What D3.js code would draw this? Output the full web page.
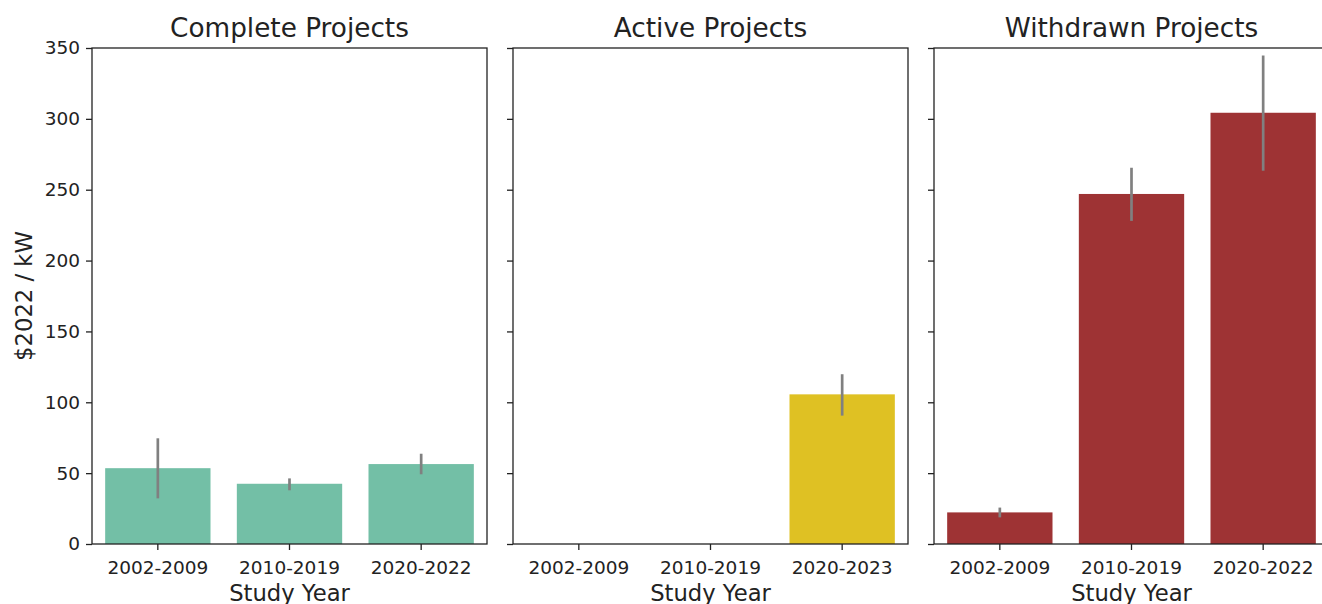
<!DOCTYPE html>
<html><head><meta charset="utf-8">
<script src="https://cdn.jsdelivr.net/npm/d3@7"></script>
<style>
body{margin:0;background:#fff;}
text{font-family:"DejaVu Sans",sans-serif;fill:#222;}
</style></head>
<body><svg id="c" width="1322" height="604"></svg>
<script>
const panelTitles = ["Complete Projects", "Active Projects", "Withdrawn Projects"];
const completeCats = ["2002-2009", "2010-2019", "2020-2022"];
const activeCats = ["2002-2009", "2010-2019", "2020-2023"];
const withdrawnCats = ["2002-2009", "2010-2019", "2020-2022"];
const completeVals = [53.5, 42.5, 56.4];
const completeLo = [32.2, 37.9, 49.2];
const completeHi = [74.6, 46.3, 63.7];
const activeVals = [null, null, 105.6];
const activeLo = [null, null, 90.6];
const activeHi = [null, null, 119.8];
const withdrawnVals = [22.3, 247, 304.3];
const withdrawnLo = [18.8, 228, 263.4];
const withdrawnHi = [25.7, 265.5, 344.7];
const yTicks = [0, 50, 100, 150, 200, 250, 300, 350];
const colors = ["#73bfa6", "#dfc123", "#9e3334"];

(function(){
const panels = [
  {title: panelTitles[0], cats: completeCats, vals: completeVals, lo: completeLo, hi: completeHi, color: colors[0], left: 92},
  {title: panelTitles[1], cats: activeCats, vals: activeVals, lo: activeLo, hi: activeHi, color: colors[1], left: 513},
  {title: panelTitles[2], cats: withdrawnCats, vals: withdrawnVals, lo: withdrawnLo, hi: withdrawnHi, color: colors[2], left: 934}
];
const W = 395, plotTop = 48, plotBottom = 544;
const svg = d3.select("#c");
const y = d3.scaleLinear().domain([0, 350]).range([plotBottom, plotTop]);

panels.forEach((p, i) => {
  const g = svg.append("g");
  const x = d3.scaleBand().domain(p.cats).range([p.left, p.left + W]).paddingInner(0.2).paddingOuter(0.1);
  const data = p.cats.map((c, j) => ({c, v: p.vals[j], lo: p.lo[j], hi: p.hi[j]})).filter(d => d.v != null);
  g.selectAll("rect.bar").data(data).enter().append("rect")
    .attr("x", d => x(d.c)).attr("width", x.bandwidth())
    .attr("y", d => y(d.v)).attr("height", d => y(0) - y(d.v))
    .attr("fill", p.color);
  g.selectAll("line.err").data(data).enter().append("line")
    .attr("x1", d => x(d.c) + x.bandwidth() / 2).attr("x2", d => x(d.c) + x.bandwidth() / 2)
    .attr("y1", d => y(d.lo)).attr("y2", d => y(d.hi))
    .attr("stroke", "#808080").attr("stroke-width", 2.7);
  g.append("rect").attr("x", p.left).attr("y", plotTop).attr("width", W).attr("height", plotBottom - plotTop)
    .attr("fill", "none").attr("stroke", "#222").attr("stroke-width", 1.3);
  const ya = d3.axisLeft(y).tickValues(yTicks).tickSize(6).tickPadding(6);
  if (i > 0) ya.tickFormat("");
  const yg = g.append("g").attr("transform", `translate(${p.left},0)`).call(ya);
  yg.select(".domain").remove();
  yg.selectAll(".tick line").attr("stroke", "#222").attr("stroke-width", 1.3);
  yg.selectAll("text").style("font-size", "18.5px").attr("fill", "#222").style("font-family", "DejaVu Sans");
  const xa = d3.axisBottom(x).tickSize(6).tickPadding(11);
  const xg = g.append("g").attr("transform", `translate(0,${plotBottom})`).call(xa);
  xg.select(".domain").remove();
  xg.selectAll(".tick line").attr("stroke", "#222").attr("stroke-width", 1.3);
  xg.selectAll("text").style("font-size", "18.5px").attr("fill", "#222").style("font-family", "DejaVu Sans");
  g.append("text").attr("x", p.left + W / 2).attr("y", 37).attr("text-anchor", "middle")
    .style("font-size", "26.3px").text(p.title);
  g.append("text").attr("x", p.left + W / 2).attr("y", 601).attr("text-anchor", "middle")
    .style("font-size", "22.7px").text("Study Year");
});
svg.append("text").attr("transform", `translate(32,${(plotTop + plotBottom) / 2}) rotate(-90)`)
  .attr("text-anchor", "middle").style("font-size", "22.7px").text("$2022 / kW");
})();
</script></body></html>
